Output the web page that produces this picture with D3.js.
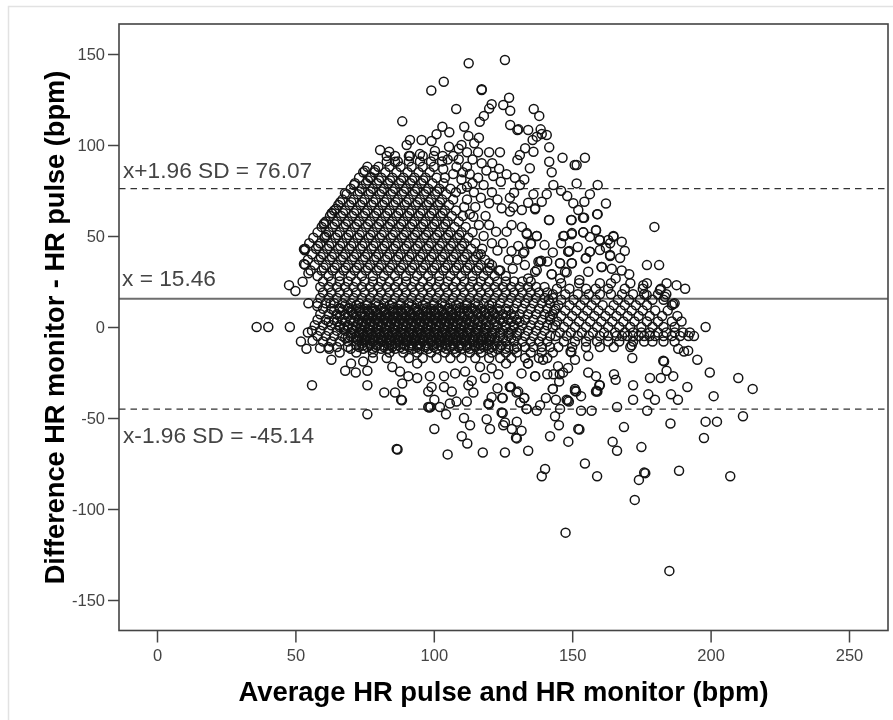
<!DOCTYPE html>
<html><head><meta charset="utf-8">
<script src="https://cdnjs.cloudflare.com/ajax/libs/d3/7.8.5/d3.min.js"></script>
<style>html,body{margin:0;padding:0;background:#fff}svg{display:block}</style>
</head><body><svg id="c" width="893" height="720"></svg>
<script>
const xTicks=[0,50,100,150,200,250];
const yTicks=[-150,-100,-50,0,50,100,150];
const meanDiff=15.46, upperLimit=76.07, lowerLimit=-45.14;
const xTitle="Average HR pulse and HR monitor (bpm)";
const yTitle="Difference HR monitor - HR pulse (bpm)";
const refLabels=["x+1.96 SD = 76.07","x = 15.46","x-1.96 SD = -45.14"];

// rows: [difference, [averages read along that difference]]
const fanRows=[
[94,[86,91,96,100]],
[91,[83,87,91,95,99,103]],
[88,[80,84,88,92,96,100]],
[85,[74.5,78.5,82.5,86.5,90.5,94.5,98.5]],
[82,[73,77,81,85,89,93,97,101]],
[79,[71.5,75.5,79.5,83.5,87.5,91.5,95.5,99.5,103.5]],
[76,[70,74,78,82,86,90,94,98,102,106]],
[73,[68.5,72.5,76.5,80.5,84.5,88.5,92.5,96.5,100.5,104.5]],
[70,[67,71,75,79,83,87,91,95,99,103,107]],
[67,[65.5,69.5,73.5,77.5,81.5,85.5,89.5,93.5,97.5,101.5,105.5]],
[64,[64,68,72,76,80,84,88,92,96,100,104,108]],
[61,[62.5,66.5,70.5,74.5,78.5,82.5,86.5,90.5,94.5,98.5,102.5,106.5,110.5]],
[58,[61,65,69,73,77,81,85,89,93,97,101,105,109]],
[55,[59.5,63.5,67.5,71.5,75.5,79.5,83.5,87.5,91.5,95.5,99.5,103.5,107.5,111.5]],
[52,[58,62,66,70,74,78,82,86,90,94,98,102,106,110,114]],
[49,[56.5,60.5,64.5,68.5,72.5,76.5,80.5,84.5,88.5,92.5,96.5,100.5,104.5,108.5,112.5]],
[46,[55,59,63,67,71,75,79,83,87,91,95,99,103,107,111,115]],
[43,[53.5,57.5,61.5,65.5,69.5,73.5,77.5,81.5,85.5,89.5,93.5,97.5,101.5,105.5,109.5,113.5,117.5]],
[40,[56,60,64,68,72,76,80,84,88,92,96,100,104,108,112,116]],
[37,[54.5,58.5,62.5,66.5,70.5,74.5,78.5,82.5,86.5,90.5,94.5,98.5,102.5,106.5,110.5,114.5,118.5]],
[34,[57,61,65,69,73,77,81,85,89,93,97,101,105,109,113,117,121]],
[31,[55.5,59.5,63.5,67.5,71.5,75.5,79.5,83.5,87.5,91.5,95.5,99.5,103.5,107.5,111.5,115.5,119.5,123.5]],
[28,[58,62,66,70,74,78,82,86,90,94,98,102,106,110,114,118,122,126]]
];
const fanDarkRows=[
[80.5,[76.2,80.2,84.2,88.2,92.2,96.2]],
[74.5,[73.2,77.2,81.2,85.2,89.2,93.2,97.2,101.2]],
[68.5,[66.2,70.2,74.2,78.2,82.2,86.2,90.2,94.2,98.2,102.2]],
[62.5,[63.2,67.2,71.2,75.2,79.2,83.2,87.2,91.2,95.2,99.2,103.2]],
[56.5,[60.2,64.2,68.2,72.2,76.2,80.2,84.2,88.2,92.2,96.2,100.2,104.2]],
[50.5,[61.2,65.2,69.2,73.2,77.2,81.2,85.2,89.2,93.2,97.2,101.2,105.2,109.2]],
[44.5,[58.2,62.2,66.2,70.2,74.2,78.2,82.2,86.2,90.2,94.2,98.2,102.2,106.2,110.2]],
[38.5,[59.2,63.2,67.2,71.2,75.2,79.2,83.2,87.2,91.2,95.2,99.2,103.2,107.2,111.2,115.2]],
[32.5,[60.2,64.2,68.2,72.2,76.2,80.2,84.2,88.2,92.2,96.2,100.2,104.2,108.2,112.2,116.2,120.2]]
];
const coreRows=[
[25,[60,63,66,69,72,75,78,81,84,87,90,93,96,99,102,105,108,111,114,117,120,123,126,129,132,135]],
[22,[59,62,65,68,71,74,77,80,83,86,89,92,95,98,101,104,107,110,113,116,119,122,125,128,131,134,137,140]],
[19,[60,63,66,69,72,75,78,81,84,87,90,93,96,99,102,105,108,111,114,117,120,123,126,129,132,135,138,141]],
[16,[59,62,65,68,71,74,77,80,83,86,89,92,95,98,101,104,107,110,113,116,119,122,125,128,131,134,137,140,143]],
[13,[58,61,64,67,70,73,76,79,82,85,88,91,94,97,100,103,106,109,112,115,118,121,124,127,130,133,136,139,142]],
[10,[60,63,66,69,72,75,78,81,84,87,90,93,96,99,102,105,108,111,114,117,120,123,126,129,132,135,138,141,144]],
[7,[59,62,65,68,71,74,77,80,83,86,89,92,95,98,101,104,107,110,113,116,119,122,125,128,131,134,137,140,143]],
[4,[58,61,64,67,70,73,76,79,82,85,88,91,94,97,100,103,106,109,112,115,118,121,124,127,130,133,136,139,142]],
[1,[57,60,63,66,69,72,75,78,81,84,87,90,93,96,99,102,105,108,111,114,117,120,123,126,129,132,135,138,141,144]],
[-2,[56,59,62,65,68,71,74,77,80,83,86,89,92,95,98,101,104,107,110,113,116,119,122,125,128,131,134,137,140]],
[-5,[58,61,64,67,70,73,76,79,82,85,88,91,94,97,100,103,106,109,112,115,118,121,124,127,130,133,136,139,142]],
[-8,[60,63,66,69,72,75,78,81,84,87,90,93,96,99,102,105,108,111,114,117,120,123,126,129,132,135,138,141]],
[-11,[62,65,69,73,76,79,82,85,88,91,94,97,100,103,106,109,112,115,118,121,124,127,130,133,136,139,142]],
[-14,[66,72,78,84,89,94,99,104,108,113,117,121,126,130,135,139,143]],
[-17,[78,83,91,96,101,106,110,115,120,124,128,133,138,141]]
];
const coreDarkRows=[
[12,[68,72,76,80,84,88,92,96,100,104,108,112,116,120]],
[9,[64,67,70,73,76,79,82,85,88,91,94,97,100,103,106,109,112,115,118,121,124,127]],
[6,[66,69,72,75,78,81,84,87,90,93,96,99,102,105,108,111,114,117,120,123,126,129]],
[3,[62,65,68,71,74,77,80,83,86,89,92,95,98,101,104,107,110,113,116,119,122,125,128,131]],
[0,[66,69,72,75,78,81,84,87,90,93,96,99,102,105,108,111,114,117,120,123,126,129]],
[-3,[70,73,76,79,82,85,88,91,94,97,100,103,106,109,112,115,118,121,124,127,130]],
[-6,[68,71,74,77,80,83,86,89,92,95,98,101,104,107,110,113,116,119,122,125,128]],
[-9,[74,77,80,83,86,89,92,95,98,101,104,107,110,113,116,119]],
[-1,[67.5,70.5,73.5,76.5,79.5,82.5,85.5,88.5,91.5,94.5,97.5,100.5,103.5,106.5,109.5,112.5,115.5,118.5]],
[2,[72.5,75.5,78.5,81.5,84.5,87.5,90.5,93.5,96.5,99.5,102.5,105.5,108.5,111.5]],
[-4,[74.5,77.5,80.5,83.5,86.5,89.5,92.5,95.5,98.5,101.5,104.5,107.5,110.5]],
[5,[76.5,79.5,82.5,85.5,88.5,91.5,94.5,97.5,100.5,103.5,106.5]],
[8,[70.5,73.5,76.5,79.5,82.5,85.5,88.5,91.5,94.5,97.5,100.5,103.5,106.5,109.5,112.5,115.5,118.5,121.5]],
[-7,[72.5,75.5,78.5,81.5,84.5,87.5,90.5,93.5,96.5,99.5,102.5,105.5,108.5,111.5,114.5,117.5,120.5]],
[-10,[72,74.5,77,79.5,82,84.5,87,89.5,92,94.5,97,99.5,102,104.5,107,109.5,112,114.5,117,119.5,122,124.5]],
[-12,[70,74.5,78,81,83.5,86,89,92.5,95,98,101,104.5,107.5,110,113,116.5,120,123,126,129]],
[1.5,[74,77,80,83,86,89,92,95,98,101,104,107,110,113,116,119,122]],
[-5.5,[69,72,75,78,81,84,87,90,93,96,99,102,105,108,111,114,117,120]],
[10.5,[66,69.5,73.5,77.5,81.5,85.5,89.5,93.5,97.5,101.5,105.5,109.5,113.5]]
];
const tailRows=[
[24,[146,152.5,160,164,171,177]],
[21,[144.5,149,155,158.5,163,169,175.5,182]],
[18,[143,147.5,152,156,160,164,168,172,176,181,184]],
[15,[141.5,146,150.5,154.5,158.5,166.5,170.5,174.5,179,183]],
[12,[145,149,153,157,161,165,169,173,177,186]],
[9,[143.5,147.5,151.5,155.5,159.5,163.5,167.5,171.5,175.5,180,184.5]],
[6,[142,146,150,154,158,162,166,170,174,178,182.5,188]],
[3,[144.5,148.5,152.5,156.5,160.5,164.5,168.5,172.5,177,181,186,189.5]],
[0,[143,147,151,155,159,163,167,171,175,179,183,187]],
[-3,[145.5,149.5,153.5,157.5,161.5,165.5,169,172,175,178,181,184,187,190,192.5]],
[-5,[144,148,152,156,160,163,166,168,170,172,174,176,178,180,183,186,189,192,194]],
[-8,[147,151,155,159,163,167,172,176,179,183,187]],
[-11,[145,150,155,160,165,171]]
];
const upperPoints=[[112.6,144.9],[125.7,146.7],[103.6,134.8],[99.1,129.9],[117.3,130.2],[117.3,130.6],[127.2,126],[125.1,122],[127.6,118.8],[120.9,122.4],[120,120],[118.1,116],[116.6,112.8],[108.1,119.8],[88.6,113],[136.1,119.8],[138.1,116],[127.6,111],[130.2,108.2],[130.6,108.6],[134.1,108.2],[138.6,108.6],[140.8,105.5],[137.2,104.6],[135.7,102.7],[139,106],[141.7,98.7],[133,98.2],[131.1,94.5],[136,96.3],[130.2,91.8],[134.7,87.2],[141.7,90.8],[142.6,85],[146.5,93],[151.6,89],[150.9,89],[154.6,93],[151.6,78.9],[159.2,78],[143.2,78],[146,74.9],[148.2,72],[150.4,68],[156.4,73],[154.4,68.8],[162.2,67.9],[152.2,64.3],[159.2,62],[154.3,60],[149.6,58.8],[141.7,58.8],
[114,92],[117.3,90],[120,96],[123.9,96],[121.1,90],[123.6,87],[121.5,83],[124.2,79.8],[126.3,83.9],[129.3,82],[132.7,81],[131.1,78],[129,73.8],[127.5,71],[124.5,65.2],[127.5,63.4],[128.7,65.8],[131.8,64.3],[134.1,68.3],[136.6,65.2],[136,73],[139,68.8],[140.8,73],[118.7,61],[114.3,60.6],[116.3,56],[120,56],[122.5,52.4],[126.3,52.4],[128.1,56],[131.8,55],[133.6,51],[137.2,50],[135,45.6],[130.5,44.5],[128.1,41.8],[132.3,40.5],[130.2,37],[127,37],[128.5,32],[137.8,35.9],[137.2,31.3],[134.1,26.7],[142.6,29],[145.6,35],[149.8,35],[148.6,41.4],[147.1,50],[149.8,51],[154,52],[158.6,53],[159.8,47.8],[163,47.8],[164.9,49.6],[156.4,41.4],[154.9,37.7],[163.7,39.6],[160.6,33],
[103.1,110],[105.6,107],[101,105.9],[99.2,102.2],[95.6,102.7],[91.4,102.7],[90.2,100],[80.6,97.3],[83.9,96.3],[83,94],[86,90.8],[76,88],[75.1,85.9],[78.8,86.3],[77.3,82.3],[71.2,78],[67.9,73.5],[64.7,65],[63.1,62.5],[60.4,57],[60.7,49.6],[53.1,42.7],[53.4,42.2],[53.1,34.6],[53.5,34.2],[54.7,29.5],[52.6,24.9],[95,95],[91.4,94],[100.4,96.7],[103.2,94],[107,94],[103.4,86.8],[108.2,88],[111,110],[112.5,105],[116.3,104],[114.6,100.9],[110,100],[107,84],[110,81],[112,77],[114.5,74],[117,71],[120,68],[112,70],[115,66],[118,78],[121,74],[123,70],[118,50],[121,46],[123,42],[125,46],[117,40],[120,35],[124,31],[140,45],[143,41],[146,46],[141,36],[152,44],[148,30],
[104,82],[109,92],[112,88],[113,84],[116,82],[119,86],[110,76],[105,92],[108,74],[111,66],[113,62],[109,98],[105.5,99],[112,96],[116,96],[110.5,85],[114,79]];
const rightPoints=[[179.7,55],[177,34],[181.4,34],[187.7,23],[190.8,21],[184.1,24],[198.2,0],[141.6,58.8],[149.8,58.8],[153.9,60],[159,62],[146.8,50],[149.9,51.6],[154,52],[158.6,53.3],[156.4,49.5],[160,47.8],[164.9,50],[167.9,46.9],[169,41.8],[163.7,46],[162.2,43.6],[160,42.3],[156.4,41.4],[155,37.9],[163.7,39],[167.3,37.9],[148.6,41.4],[149,41.8],[145.6,35],[149.9,35],[142.6,29],[147.4,30.4],[145.6,26.7],[138.4,35.9],[138.8,36.4],[136.6,30.4],[137.2,50],[133.6,51.6],[135.1,46],[132.7,41.4],[132.9,34],[136.6,64.7],[160.7,33],[164.3,32],[167.9,31],[170.6,29],[155.8,30.4],[152.6,25.8],[165.7,26.7],[175.7,23],[181.7,20.3],[176.9,17.6],[183.5,16.6],[186.5,12.6],[187,13]];
const lowerPoints=[[36,0],[40.2,0],[48,0],[47.7,23],[50,19.8],[54.7,13],[57.9,11.5],[62.7,13],[54.5,-3],[52,-8],[54,-12],[56.2,-7.5],[58.9,-11.5],[62.2,-12],[63,-18],[56,-32],[68,-24],[71.8,-25],[70.1,-20],[76,-24],[74.5,-19],[76,-32],[76,-48],[82.1,-36],[86,-36],[88.2,-40],[88.5,-40.3],[85,-22],[87.8,-24.5],[90.8,-27],[88.6,-31],[94,-28],[94,-20],[86.6,-67],[86.9,-67.3],[100.2,-56],[98,-44],[98.4,-44.2],[98.8,-44],[102.2,-44],[104.4,-48],[98,-35.5],[99.2,-33],[98.6,-27],[103.7,-27],[103.7,-33],[100.2,-40],[106.5,-35.5],[105.8,-42],[108.2,-41],[111.9,-41],[114.3,-36],[112.5,-32],[113.7,-29.5],[118.5,-28],[107.7,-25.5],[111.3,-24.5],[116.7,-22],[120.9,-22.7],[123.3,-26],[123,-33.7],[124.7,-39],[127.5,-32.8],[127.9,-33],[119.7,-42],[120,-42.4],[120.9,-38.6],[130.5,-35.5],[132.7,-39],[124.5,-47],[124.9,-47.3],[133.5,-45],[137.2,-46],[119.1,-50.7],[125.7,-52.5],[120.3,-56],[125.1,-54],[130,-52],[131.7,-57],[129.7,-60.8],[130,-61.2],[110.9,-50],[113.1,-54],[110.1,-60],[112.1,-64],[105,-70],[117.7,-69],[125.7,-69],[134.1,-68],[136.6,-27],[131.7,-25.5],[126.1,-20],[134.1,-20],
[147.6,-113],[185.1,-134],[172.6,-95],[174.1,-84],[176,-80],[176.4,-80.3],[188.6,-79],[207.1,-82],[159,-82],[154.6,-75],[140.2,-78],[139,-82],[148.6,-63],[142,-60],[152.2,-56],[152.6,-56.3],[164.6,-63],[166.2,-68],[168.7,-55],[175,-66],[185.5,-53],[198.2,-52],[202.3,-52],[197.6,-61],[211.7,-49],[215.2,-34],[201.1,-38],[191.6,-33],[188.2,-40],[185.7,-37],[179.9,-40],[177.5,-37],[177.1,-46],[172,-40],[172,-32],[166.2,-44],[157,-46],[153.2,-46],[153.2,-38],[145.6,-45],[143.8,-49],[145.2,-54],[133.6,-45],[138.4,-43],[140.5,-39],[144.1,-40],[148,-40],[148.4,-40.4],[148.8,-41],[151,-35],[151.4,-35.4],[143,-34],[158.8,-35],[159.1,-35.4],[160,-32],[128.2,-56],[124.9,-39],[132.6,-39],[131.2,-41.5],[129.9,-36],[127.5,-33],
[195.2,-18],[199.7,-25],[210,-28],[178.1,-28],[182,-28],[186.5,-27],[184.1,-24],[182.9,-18.5],[183.2,-18.9],[171.7,-17],[165.1,-26],[165.7,-29],[171.5,-10],[190.4,-13.5],[188.3,-12],[191.9,-13],[155.8,-16],[149.4,-13.5],[149.7,-13.9],[151,-18],[155.8,-25],[158.6,-27],[159.8,-32],[158.6,-35.5],[151,-34],[143,-34],[145.3,-30],[141,-26],[143.2,-26],[145.5,-26],[136.6,-27],[146.7,-25],[148.5,-22.5],[144.9,-21.5],[134,-20],[139.5,-18]];

const flatRows=rows=>rows.flatMap(([d,avgs])=>avgs.map(a=>[a,d]));
const points=[...flatRows(fanRows),...flatRows(fanDarkRows),...flatRows(coreRows),...flatRows(coreDarkRows),...flatRows(tailRows),...upperPoints,...rightPoints,...lowerPoints];

const svg=d3.select("#c");
const L=119,R=888,T=24,B=630.5;
const x=d3.scaleLinear().domain([(L-157)/2.768,(R-157)/2.768]).range([L,R]);
const y=d3.scaleLinear().domain([(B-327)/-1.82,(T-327)/-1.82]).range([B,T]);
const font="'Liberation Sans',Arial,sans-serif";

svg.append("rect").attr("width",893).attr("height",720).attr("fill","#fff");
svg.append("path").attr("d","M8.5,720V6.5H893").attr("fill","none").attr("stroke","#e2e2e2").attr("stroke-width",1.5);

const g=svg.append("g").style("filter","blur(0.35px)");
const hl=(v,col,w,dash)=>g.append("line").attr("x1",L).attr("x2",R).attr("y1",y(v)).attr("y2",y(v))
 .attr("stroke",col).attr("stroke-width",w).attr("stroke-dasharray",dash);
hl(meanDiff,"#6e6e6e",2,null);
hl(upperLimit,"#333",1.3,"6.5,5");
hl(lowerLimit,"#333",1.3,"6.5,5");

g.append("g").selectAll("circle").data(points).join("circle")
 .attr("cx",d=>x(d[0])).attr("cy",d=>y(d[1])).attr("r",4.5)
 .attr("fill","none").attr("stroke","#141414").attr("stroke-width",1.5);

g.append("rect").attr("x",L).attr("y",T).attr("width",R-L).attr("height",B-T)
 .attr("fill","none").attr("stroke","#444").attr("stroke-width",1.6);

const ax=g.append("g").attr("transform",`translate(0,${B})`)
 .call(d3.axisBottom(x).tickValues(xTicks).tickSize(12).tickPadding(7).tickFormat(d=>String(d)));
const ay=g.append("g").attr("transform",`translate(${L},0)`)
 .call(d3.axisLeft(y).tickValues(yTicks).tickSize(11).tickPadding(3).tickFormat(d=>String(d)));
[ax,ay].forEach(a=>{a.select(".domain").remove();
 a.selectAll("line").attr("stroke","#444").attr("stroke-width",1.5);
 a.selectAll("text").attr("fill","#444").style("font-family",font).style("font-size","16.5px");});

const label=(t,px,py)=>g.append("text").attr("x",px).attr("y",py).text(t)
 .attr("fill","#444").style("font-family",font).style("font-size","22.7px");
label(refLabels[0],123,178);
label(refLabels[1],122,286);
label(refLabels[2],123,443);

g.append("text").attr("x",503.5).attr("y",701).attr("text-anchor","middle").text(xTitle)
 .attr("fill","#000").style("font-family",font).style("font-weight","bold").style("font-size","27.4px");
g.append("text").attr("transform","translate(64,327.5) rotate(-90)").attr("text-anchor","middle").text(yTitle)
 .attr("fill","#000").style("font-family",font).style("font-weight","bold").style("font-size","27.2px");
</script></body></html>
